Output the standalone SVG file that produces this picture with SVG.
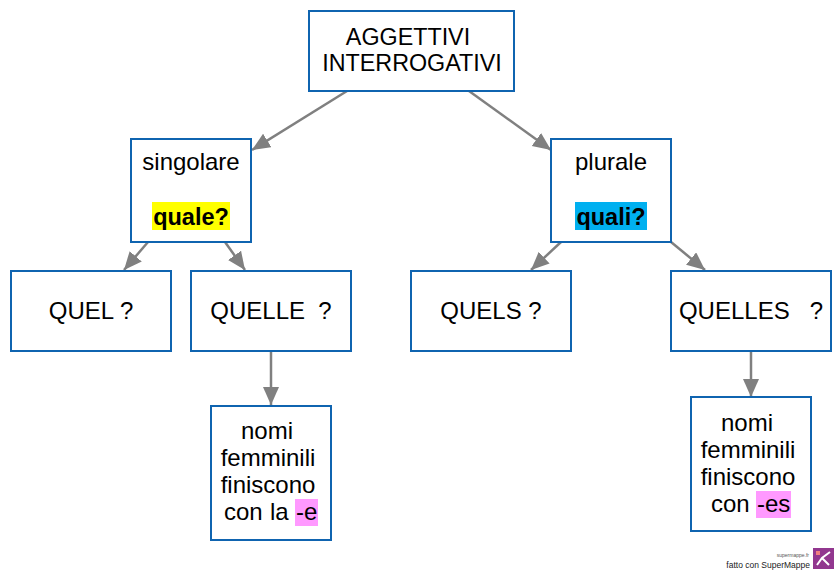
<svg xmlns="http://www.w3.org/2000/svg" width="840" height="575" viewBox="0 0 840 575">
<style>
.box{fill:#fff;stroke:#0f64b0;stroke-width:2}
text{font-family:"Liberation Sans",Arial,sans-serif;font-size:24px;fill:#000;text-anchor:middle}
.t{font-size:23.3px}
.b{font-weight:bold;font-size:23.5px}
.s{text-anchor:start}
.c{stroke:#808080;stroke-width:2.5;fill:none;marker-end:url(#a)}
</style>
<defs><marker id="a" markerUnits="userSpaceOnUse" markerWidth="20" markerHeight="18" refX="18" refY="8" orient="auto"><path d="M0 0L18 8L0 16Z" fill="#808080"/></marker></defs>
<rect width="840" height="575" fill="#fff"/>
<g id="connectors">
<path class="c" d="M347 91L252 150"/>
<path class="c" d="M469 91L551 150"/>
<path class="c" d="M148 242L124 270"/>
<path class="c" d="M225 242L245 270"/>
<path class="c" d="M561 242L531 270"/>
<path class="c" d="M671 242L705 270"/>
<path class="c" d="M271 351L271 405"/>
<path class="c" d="M751 351L751 397"/>
</g>
<g id="n1"><rect class="box" x="309" y="11" width="205" height="80"/><text class="t" x="408" y="45">AGGETTIVI</text><text class="t" x="412" y="71">INTERROGATIVI</text></g>
<g id="n2"><rect class="box" x="131" y="139" width="120" height="103"/><text x="191" y="170">singolare</text><rect x="152" y="202" width="78" height="28" fill="#ffff00"/><text class="b" x="191" y="225">quale?</text></g>
<g id="n3"><rect class="box" x="551" y="139" width="120" height="103"/><text x="611" y="170">plurale</text><rect x="575" y="202" width="72" height="28" fill="#00b0f0"/><text class="b" x="611" y="225">quali?</text></g>
<g id="n4"><rect class="box" x="11" y="271" width="160" height="80"/><text x="91" y="319">QUEL ?</text></g>
<g id="n5"><rect class="box" x="191" y="271" width="160" height="80"/><text x="271" y="319" xml:space="preserve">QUELLE  ?</text></g>
<g id="n6"><rect class="box" x="411" y="271" width="160" height="80"/><text x="491" y="319">QUELS ?</text></g>
<g id="n7"><rect class="box" x="671" y="271" width="160" height="80"/><text x="751" y="319" xml:space="preserve">QUELLES   ?</text></g>
<g id="n8"><rect class="box" x="211" y="406" width="120" height="134"/><text x="267" y="439">nomi</text><text x="268" y="466">femminili</text><text x="268" y="493">finiscono</text><rect x="295" y="499" width="23" height="27" fill="#ff99ff"/><text class="s" x="224" y="520">con</text><text class="s" x="270" y="520">la</text><text class="s" x="296" y="520">-e</text></g>
<g id="n9"><rect class="box" x="691" y="397" width="120" height="134"/><text x="747" y="431">nomi</text><text x="748" y="458">femminili</text><text x="748" y="485">finiscono</text><rect x="756" y="491" width="35" height="27" fill="#ff99ff"/><text class="s" x="711" y="512">con</text><text class="s" x="757" y="512">-es</text></g>
<g id="logo">
<text x="809" y="557" style="font-size:5px;text-anchor:end;fill:#555">supermappe.fr</text>
<text x="810" y="568" style="font-size:8.5px;text-anchor:end;fill:#222">fatto con SuperMappe</text>
<rect x="813" y="548" width="21" height="21" fill="#92378f"/>
<path d="M817 565L822 558L830 552M822 558L829 565" stroke="#fff" stroke-width="2" fill="none"/>
<rect x="816" y="551" width="4" height="4" fill="#f08080"/>
</g>
</svg>
